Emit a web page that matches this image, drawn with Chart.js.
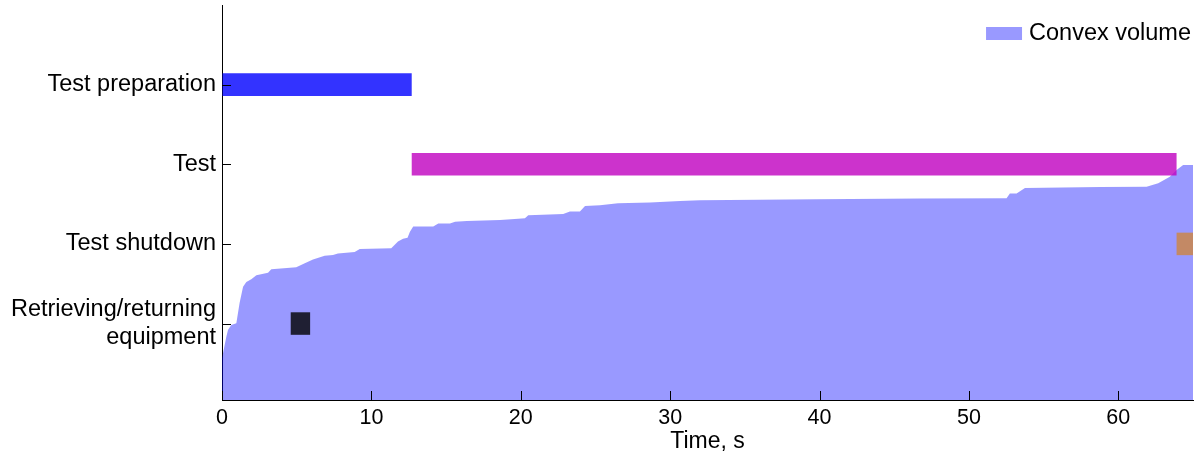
<!DOCTYPE html>
<html>
<head>
<meta charset="utf-8">
<script src="https://cdn.jsdelivr.net/npm/chart.js@4.4.1/dist/chart.umd.min.js"></script>
<style>
  html, body { margin: 0; padding: 0; background: #fff; }
  #c { display: block; }
</style>
</head>
<body>
<canvas id="c" width="1202" height="459"></canvas>
<script>
// Activity phases (top to bottom) and their time spans, seconds
const phases = ['Test preparation', 'Test', 'Test shutdown', 'Retrieving/returning\nequipment'];
const phaseStart = [0, 12.7, 63.9, 4.6];
const phaseEnd = [12.7, 63.9, 65, 5.9];
const phaseColors = ['rgba(0,0,255,0.8)', 'rgba(191,0,191,0.8)', 'rgba(205,133,63,0.8)', 'rgba(0,0,0,0.8)'];

// Convex volume over time (normalised)
const volTime = [0, 0.29, 0.40, 0.62, 0.96, 1.18, 1.41, 1.63, 1.96, 2.30, 3.08, 3.30, 4.97, 5.54, 6.09, 6.87, 7.43, 7.76, 8.88, 9.22,
  11.33, 11.78, 12.12, 12.42, 12.58, 12.80, 14.14, 14.48, 15.26, 15.60, 16.38, 18.61, 19.83, 20.28, 20.50, 22.84, 23.29, 23.96,
  24.30, 25.30, 26.51, 28.65, 30.66, 31.99, 39.81, 46.72, 52.52, 52.74, 53.19, 53.75, 58.77, 61.89, 62.67, 63.45, 63.90, 64.34, 65];
const volValue = [0.106, 0.160, 0.177, 0.190, 0.194, 0.246, 0.287, 0.299, 0.306, 0.316, 0.322, 0.331, 0.336, 0.346, 0.356, 0.365,
  0.367, 0.371, 0.375, 0.382, 0.384, 0.401, 0.408, 0.411, 0.426, 0.439, 0.439, 0.447, 0.447, 0.451, 0.453, 0.456, 0.459, 0.460,
  0.468, 0.471, 0.477, 0.477, 0.491, 0.493, 0.498, 0.500, 0.504, 0.506, 0.508, 0.510, 0.511, 0.523, 0.523, 0.537, 0.539, 0.540,
  0.549, 0.565, 0.582, 0.595, 0.595];
const volLabel = 'Convex volume';
const volColor = 'rgba(0,0,255,0.4)';

const timeTicks = [0, 10, 20, 30, 40, 50, 60];
const xTitle = 'Time, s';

const FONT = '"Liberation Sans", Arial, Helvetica, sans-serif';

// Row position of each phase on the vertical axis (first phase at the top)
const rowOf = i => phases.length - i;

// Short tick marks pointing into the plot
const inwardTicks = {
  id: 'inwardTicks',
  afterDatasetsDraw(chart) {
    const { ctx, chartArea, scales } = chart;
    ctx.save();
    ctx.strokeStyle = '#000';
    ctx.lineWidth = 1;
    scales.x.ticks.forEach(t => {
      const px = Math.round(scales.x.getPixelForValue(t.value)) + 0.5;
      ctx.beginPath();
      ctx.moveTo(px, chartArea.bottom);
      ctx.lineTo(px, chartArea.bottom - 9);
      ctx.stroke();
    });
    scales.y.ticks.forEach(t => {
      const py = Math.round(scales.y.getPixelForValue(t.value)) + 0.5;
      ctx.beginPath();
      ctx.moveTo(chartArea.left, py);
      ctx.lineTo(chartArea.left + 9, py);
      ctx.stroke();
    });
    ctx.restore();
  }
};

// Legend entry for the volume area in the upper right corner of the plot
const cornerLegend = {
  id: 'cornerLegend',
  afterDraw(chart) {
    const { ctx, chartArea } = chart;
    const ds = chart.data.datasets[1];
    ctx.save();
    ctx.font = '23.5px ' + FONT;
    ctx.textBaseline = 'middle';
    ctx.textAlign = 'right';
    const tx = chartArea.right - 2;
    const ty = 33.5;
    const w = ctx.measureText(ds.label).width;
    ctx.fillStyle = ds.backgroundColor;
    ctx.fillRect(tx - w - 43, ty - 6.5, 36, 13);
    ctx.fillStyle = '#000';
    ctx.fillText(ds.label, tx, ty);
    ctx.restore();
  }
};

new Chart(document.getElementById('c'), {
  type: 'bar',
  data: {
    datasets: [
      {
        type: 'bar',
        label: 'Phases',
        data: phases.map((p, i) => ({ x: [phaseStart[i], phaseEnd[i]], y: rowOf(i) })),
        backgroundColor: phaseColors,
        borderWidth: 0,
        grouped: false,
        barPercentage: 1,
        categoryPercentage: 0.283,
        xAxisID: 'x',
        yAxisID: 'y',
        order: 0
      },
      {
        type: 'line',
        label: volLabel,
        indexAxis: 'x',
        data: volTime.map((t, i) => ({ x: t, y: volValue[i] })),
        backgroundColor: volColor,
        borderWidth: 0,
        pointRadius: 0,
        fill: 'origin',
        tension: 0,
        xAxisID: 'x',
        yAxisID: 'vol',
        order: 1
      }
    ]
  },
  options: {
    indexAxis: 'y',
    responsive: false,
    animation: false,
    devicePixelRatio: 1,
    layout: { padding: { top: 5, right: 9, left: 0, bottom: 0 } },
    plugins: {
      legend: { display: false },
      tooltip: { enabled: false }
    },
    scales: {
      x: {
        type: 'linear',
        position: 'bottom',
        min: 0,
        max: 65,
        offset: false,
        border: { display: true, color: '#000', width: 1 },
        grid: { display: true, drawOnChartArea: false, drawTicks: false, offset: false },
        ticks: { color: '#000', font: { family: FONT, size: 21.5 }, padding: 5, maxRotation: 0 },
        title: { display: true, text: xTitle, color: '#000', font: { family: FONT, size: 23 }, padding: { top: 0, bottom: 4 } },
        afterBuildTicks: s => { s.ticks = timeTicks.map(v => ({ value: v })); },
        afterFit: s => { s.height = 59; s.paddingLeft = 0; s.paddingRight = 0; }
      },
      y: {
        type: 'linear',
        position: 'left',
        min: 0.04,
        max: 5,
        offset: false,
        border: { display: true, color: '#000', width: 1 },
        grid: { display: true, drawOnChartArea: false, drawTicks: false, offset: false },
        ticks: {
          color: '#000',
          font: { family: FONT, size: 23.5, lineHeight: 1.2 },
          padding: 6,
          callback: v => {
            const name = phases[phases.length - v];
            return name ? name.split('\n') : '';
          }
        },
        afterBuildTicks: s => { s.ticks = phases.map((p, i) => ({ value: rowOf(i) })); },
        afterFit: s => { s.width = 222; s.paddingTop = 0; s.paddingBottom = 0; }
      },
      vol: {
        type: 'linear',
        display: false,
        offset: false,
        grid: { offset: false },
        min: 0,
        max: 1
      }
    }
  },
  plugins: [inwardTicks, cornerLegend]
});
</script>
</body>
</html>
